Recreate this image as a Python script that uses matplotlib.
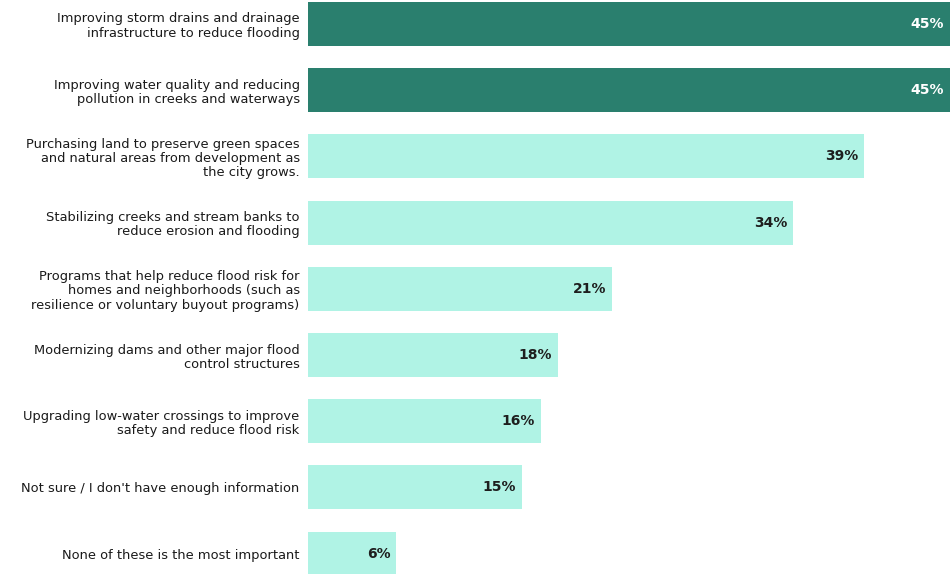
import matplotlib
matplotlib.use("Agg")
import matplotlib.pyplot as plt

categories = [
    "Improving storm drains and drainage\ninfrastructure to reduce flooding",
    "Improving water quality and reducing\npollution in creeks and waterways",
    "Purchasing land to preserve green spaces\nand natural areas from development as\nthe city grows.",
    "Stabilizing creeks and stream banks to\nreduce erosion and flooding",
    "Programs that help reduce flood risk for\nhomes and neighborhoods (such as\nresilience or voluntary buyout programs)",
    "Modernizing dams and other major flood\ncontrol structures",
    "Upgrading low-water crossings to improve\nsafety and reduce flood risk",
    "Not sure / I don't have enough information",
    "None of these is the most important",
]
values = [45.0, 45.0, 39.0, 34.0, 21.3, 17.5, 16.3, 15.0, 6.2]
value_labels = ["45%", "45%", "39%", "34%", "21%", "18%", "16%", "15%", "6%"]
highlight = [True, True, False, False, False, False, False, False, False]

dark = "#2a7f6e"
light = "#b0f3e5"

W, H = 951, 574
fig = plt.figure(figsize=(W / 100, H / 100), dpi=100)
left_px = 308
ax = fig.add_axes([left_px / W, 0, 1 - left_px / W, 1])

pos = list(range(len(values)))
colors = [dark if h else light for h in highlight]
ax.barh(pos, values, height=0.665, color=colors, edgecolor="none")

ax.set_xlim(0, 45.07)
ax.set_ylim(8.308, -0.3625)

for p, v, lab, h in zip(pos, values, value_labels, highlight):
    ax.text(v - 0.42, p, lab, ha="right", va="center",
            fontsize=10, fontweight="bold",
            color="white" if h else "#1e1e1e")

ax.set_yticks(pos)
ax.set_yticklabels(categories, fontsize=9.4, color="#1a1a1a", ha="right",
                   linespacing=1.12)
ax.tick_params(axis="y", length=0, pad=6)
ax.set_xticks([])
for s in ax.spines.values():
    s.set_visible(False)

fig.savefig("out.png", dpi=100)
